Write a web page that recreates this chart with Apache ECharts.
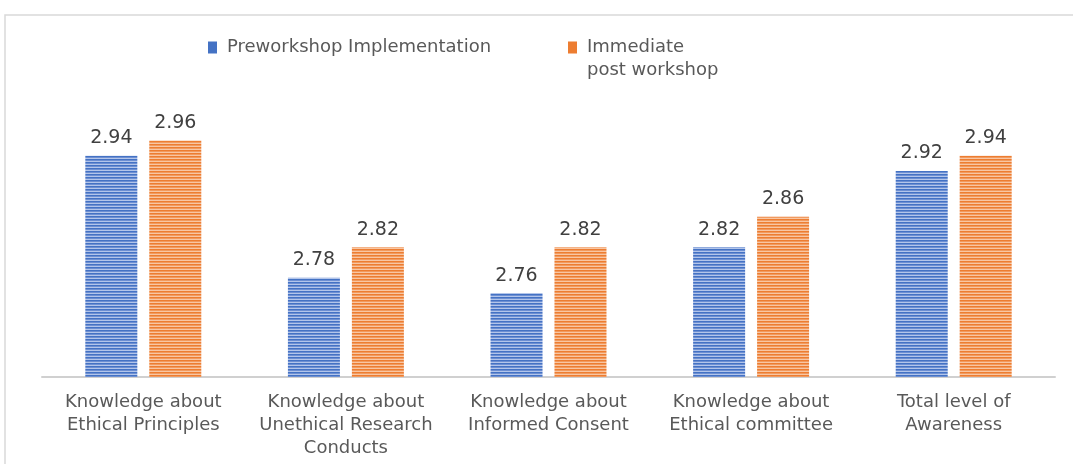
<!DOCTYPE html>
<html><head><meta charset="utf-8">
<script src="https://cdn.jsdelivr.net/npm/echarts@6/dist/echarts.min.js"></script>
<style>html,body{margin:0;padding:0;background:#fff}#c{width:1073px;height:464px}</style>
</head><body><div id="c"></div>
<script>
const categories = ['Knowledge about\nEthical Principles', 'Knowledge about\nUnethical Research\nConducts', 'Knowledge about\nInformed Consent', 'Knowledge about\nEthical committee', 'Total level of\nAwareness'];
const preworkshop = [2.94, 2.78, 2.76, 2.82, 2.92];
const postWorkshop = [2.96, 2.82, 2.82, 2.86, 2.94];
const seriesNames = ['Preworkshop Implementation', 'Immediate\npost workshop'];

function stripe(colors) {
  const c = document.createElement('canvas');
  c.width = 4; c.height = colors.length;
  const g = c.getContext('2d');
  colors.forEach((col, i) => { g.fillStyle = col; g.fillRect(0, i, 4, 1); });
  return c;
}
const blueFill = { image: stripe(['#4472C4', '#6d8fd2', '#b3c5ea']), repeat: 'repeat' };
const orangeFill = { image: stripe(['#ED7D31', '#f19a5f', '#f8c6a3']), repeat: 'repeat' };
const FONT = 'DejaVu Sans';

const chart = echarts.init(document.getElementById('c'));
chart.setOption({
  animation: false,
  backgroundColor: '#fff',
  graphic: [{
    type: 'rect', shape: { x: 5, y: 15, width: 1200, height: 600 },
    style: { fill: 'none', stroke: '#d9d9d9', lineWidth: 1.5 }, z: -1
  }],
  legend: [{
    data: [{ name: seriesNames[0], itemStyle: { color: '#4472C4' } }], left: 203, top: 31, icon: 'rect', itemWidth: 9, itemHeight: 12,
    textStyle: { fontFamily: FONT, fontSize: 18, color: '#595959', lineHeight: 23, padding: [0, 0, 0, 5] }
  }, {
    data: [{ name: seriesNames[1], itemStyle: { color: '#ED7D31' } }], left: 563, top: 31,
    icon: 'path://M0,0L9,0L9,12L0,12Z M0,35L0.01,35', itemWidth: 9, itemHeight: 35,
    textStyle: { fontFamily: FONT, fontSize: 18, color: '#595959', lineHeight: 23, padding: [0, 0, 0, 5] }
  }],
  grid: { left: 42, right: 18, top: 110, bottom: 87 },
  xAxis: {
    type: 'category', data: categories,
    axisLine: { lineStyle: { color: '#d0d0d0', width: 2 } },
    axisTick: { show: false },
    axisLabel: { fontFamily: FONT, fontSize: 18, color: '#595959', lineHeight: 23, margin: 14, interval: 0 }
  },
  yAxis: { type: 'value', min: 2.65, max: 3.0, show: false, splitLine: { show: false } },
  series: [{
    name: seriesNames[0], type: 'bar', data: preworkshop, barWidth: 52, barGap: '23%',
    itemStyle: { color: blueFill },
    label: { show: true, position: 'top', distance: 8, fontFamily: FONT, fontSize: 19, color: '#404040', formatter: p => p.value.toFixed(2) }
  }, {
    name: seriesNames[1], type: 'bar', data: postWorkshop, barWidth: 52,
    itemStyle: { color: orangeFill },
    label: { show: true, position: 'top', distance: 8, fontFamily: FONT, fontSize: 19, color: '#404040', formatter: p => p.value.toFixed(2) }
  }]
});
</script></body></html>
